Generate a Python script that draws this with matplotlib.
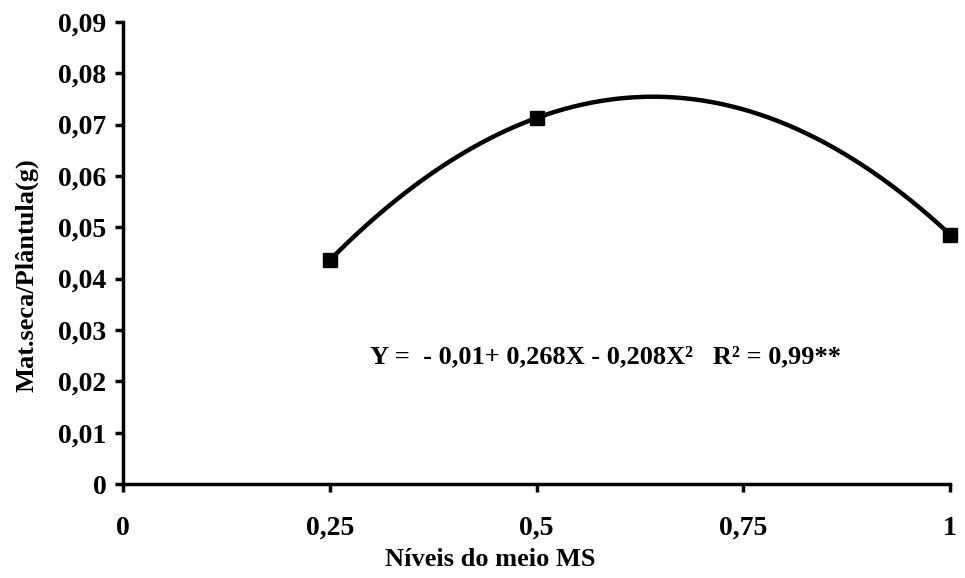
import matplotlib.pyplot as plt
import numpy as np

# observed means
niveis = [0.25, 0.5, 1.0]
mat_seca = [0.0436, 0.0713, 0.0486]

x_ticks = [0, 0.25, 0.5, 0.75, 1]
x_labels = ["0", "0,25", "0,5", "0,75", "1"]
y_ticks = [0, 0.01, 0.02, 0.03, 0.04, 0.05, 0.06, 0.07, 0.08, 0.09]
y_labels = ["0", "0,01", "0,02", "0,03", "0,04", "0,05", "0,06", "0,07", "0,08", "0,09"]

equacao = "Y =  - 0,01+ 0,268X - 0,208X²   R² = 0,99**"

plt.rcParams['font.family'] = ['Liberation Serif', 'DejaVu Serif']

fig = plt.figure(figsize=(9.65, 5.78), dpi=100)
ax = fig.add_axes([0.1275, 0.1626, 0.857, 0.7994])

# quadratic trend through the means
coef = np.polyfit(niveis, mat_seca, 2)
xx = np.linspace(niveis[0], niveis[-1], 200)
ax.plot(xx, np.polyval(coef, xx), color='black', lw=3.2, zorder=2)
ax.plot(niveis, mat_seca, ls='none', marker='s', ms=10, color='black',
        zorder=3, clip_on=False)

ax.set_xlim(0, 1)
ax.set_ylim(0, 0.09)
ax.set_xticks(x_ticks)
ax.set_xticklabels(x_labels)
ax.set_yticks(y_ticks)
ax.set_yticklabels(y_labels)

for s in ['top', 'right']:
    ax.spines[s].set_visible(False)
for s in ['left', 'bottom']:
    ax.spines[s].set_linewidth(2.5)
ax.tick_params(direction='out', width=2.5, length=6, labelsize=20, pad=6)
ax.tick_params(axis='x', pad=17)
for lab in ax.get_xticklabels() + ax.get_yticklabels():
    lab.set_fontweight('bold')

ax.set_xlabel("Níveis do meio MS", fontsize=19, fontweight='bold')
ax.xaxis.set_label_coords(0.444, -0.138)
ax.set_ylabel("Mat.seca/Plântula(g)", fontsize=19, fontweight='bold')
ax.yaxis.set_label_coords(-0.102, 0.452)

ax.text(0.2987, 0.0247, equacao, fontsize=19, fontweight='bold',
        ha='left', va='center')

fig.savefig("out.png", dpi=100)
